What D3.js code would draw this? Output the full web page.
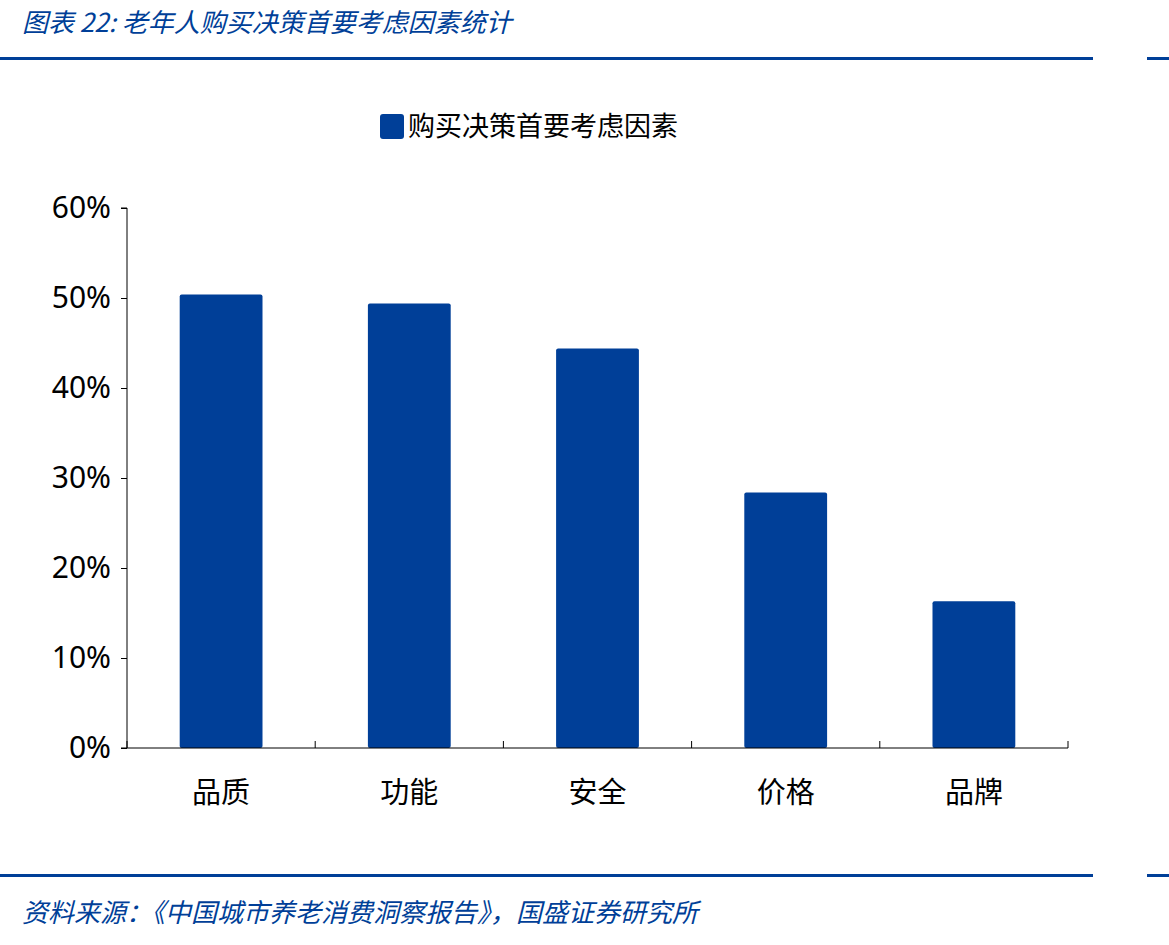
<!DOCTYPE html>
<html><head><meta charset="utf-8">
<script src="https://cdn.jsdelivr.net/npm/d3@7"></script>
<style>body{margin:0;background:#fff}</style>
</head><body>
<script>
const categories = ["品质", "功能", "安全", "价格", "品牌"];
const values = [50.4, 49.4, 44.4, 28.4, 16.3];
const yTicks = [0, 10, 20, 30, 40, 50, 60];
const seriesName = "购买决策首要考虑因素";
const BLUE = "#003f98";
const FONT = "'Noto Sans CJK SC', 'Noto Sans', sans-serif";

const svg = d3.select("body").append("svg").attr("width", 1169).attr("height", 945);

//header and footer
svg.append("text").attr("x", 22).attr("y", 32).attr("fill", BLUE)
  .attr("font-family", FONT).attr("font-size", 26).attr("font-style", "italic")
  .text("图表 22:  老年人购买决策首要考虑因素统计");
svg.append("rect").attr("x", 0).attr("y", 57).attr("width", 1093).attr("height", 3).attr("fill", BLUE);
svg.append("rect").attr("x", 1147).attr("y", 57).attr("width", 22).attr("height", 3).attr("fill", BLUE);
svg.append("rect").attr("x", 0).attr("y", 874).attr("width", 1093).attr("height", 3).attr("fill", BLUE);
svg.append("rect").attr("x", 1147).attr("y", 874).attr("width", 22).attr("height", 3).attr("fill", BLUE);
svg.append("text").attr("x", 22).attr("y", 922).attr("fill", BLUE)
  .attr("font-family", FONT).attr("font-size", 26).attr("font-style", "italic")
  .text("资料来源：《中国城市养老消费洞察报告》，国盛证券研究所");

//legend
svg.append("rect").attr("x", 380).attr("y", 114).attr("width", 24).attr("height", 25).attr("rx", 3).attr("fill", BLUE);
svg.append("text").attr("x", 408).attr("y", 136).attr("font-family", FONT).attr("font-size", 27)
  .text(seriesName);

const x = d3.scaleBand().domain(categories).range([127, 1068]).paddingInner(0.56).paddingOuter(0.28);
const y = d3.scaleLinear().domain([0, 60]).range([748, 208]);

const yAxis = svg.append("g").attr("transform", "translate(127,0)")
  .call(d3.axisLeft(y).tickValues(yTicks).tickFormat(d => d + "%").tickSize(6).tickPadding(8));
yAxis.select(".domain").attr("d", "M-6,208H0V748H-6").attr("stroke", "#000");
yAxis.selectAll("line").attr("x1", 0).attr("x2", -6);
yAxis.selectAll("text").attr("font-family", "'Noto Sans', sans-serif").attr("font-size", 30).attr("fill", "#000").attr("dx", -2);

svg.selectAll(".bar").data(values).enter().append("rect")
  .attr("x", (d, i) => x(categories[i])).attr("width", x.bandwidth())
  .attr("y", d => y(d)).attr("height", d => y(0) - y(d))
  .attr("rx", 2).attr("fill", BLUE);

//x axis with ticks at band boundaries
const step = (1068 - 127) / categories.length;
svg.append("line").attr("x1", 127).attr("x2", 1068).attr("y1", 748).attr("y2", 748).attr("stroke", "#000");
d3.range(categories.length + 1).forEach(i => {
  svg.append("line").attr("x1", 127 + i * step).attr("x2", 127 + i * step)
    .attr("y1", 748).attr("y2", 741).attr("stroke", "#000");
});
svg.selectAll(".xl").data(categories).enter().append("text")
  .attr("x", d => x(d) + x.bandwidth() / 2).attr("y", 803).attr("text-anchor", "middle")
  .attr("font-family", FONT).attr("font-size", 29).text(d => d);
</script>
</body></html>
